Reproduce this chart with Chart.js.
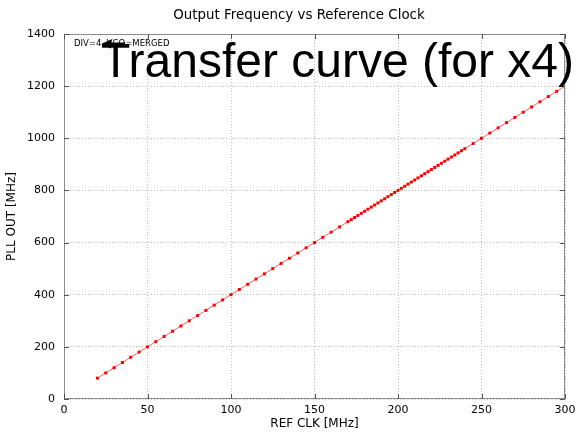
<!DOCTYPE html>
<html>
<head>
<meta charset="utf-8">
<script src="https://cdn.jsdelivr.net/npm/chart.js@4/dist/chart.umd.min.js"></script>
<style>
html,body{margin:0;padding:0;background:#fff;}
#c{display:block;}
</style>
</head>
<body>
<canvas id="c" width="576" height="432"></canvas>
<script>
const chartTitle = "Output Frequency vs Reference Clock";
const xTitle = "REF CLK [MHz]";
const yTitle = "PLL OUT [MHz]";
const legendText = "DIV=4, VCO=MERGED";
const bigLabel = "Transfer curve (for x4)";
const xTicks = [0,50,100,150,200,250,300];
const yTicks = [0,200,400,600,800,1000,1200,1400];
const refClk = [20,25,30,35,40,45,50,55,60,65,70,75,80,85,90,95,100,105,110,115,120,125,130,135,140,145,150,155,160,165,
  170,172,174,176,178,180,182,184,186,188,190,192,194,196,198,200,202,204,206,208,210,212,214,216,218,220,222,224,226,228,230,232,234,236,238,240,
  245,250,255,260,265,270,275,280,285,290,295,300];
const pllOut = [80,100,120,140,160,180,200,220,240,260,280,300,320,340,360,380,400,420,440,460,480,500,520,540,560,580,600,620,640,660,
  680,688,696,704,712,720,728,736,744,752,760,768,776,784,792,800,808,816,824,832,840,848,856,864,872,880,888,896,904,912,920,928,936,944,952,960,
  980,1000,1020,1040,1060,1080,1100,1120,1140,1160,1180,1200];

const points = refClk.map((x,i)=>({x:x,y:pllOut[i]}));
const FONT = "'DejaVu Sans', sans-serif";

const overlay = {
  id:'overlay',
  afterDraw(chart){
    const ctx = chart.ctx;
    const a = chart.chartArea;
    const xs = chart.scales.x, ys = chart.scales.y;
    ctx.save();
    // frame
    ctx.strokeStyle = '#8c8c8c';
    ctx.lineWidth = 1;
    ctx.strokeRect(Math.round(a.left)+0.5, Math.round(a.top)+0.5, Math.round(a.right-a.left)-1, Math.round(a.bottom-a.top)-1);
    // inward ticks
    ctx.strokeStyle = '#555';
    xTicks.forEach(v=>{
      const px = Math.round(xs.getPixelForValue(v))+0.5;
      ctx.beginPath(); ctx.moveTo(px,a.bottom); ctx.lineTo(px,a.bottom-5); ctx.stroke();
      ctx.beginPath(); ctx.moveTo(px,a.top); ctx.lineTo(px,a.top+5); ctx.stroke();
    });
    yTicks.forEach(v=>{
      const py = Math.round(ys.getPixelForValue(v))+0.5;
      ctx.beginPath(); ctx.moveTo(a.left,py); ctx.lineTo(a.left+5,py); ctx.stroke();
      ctx.beginPath(); ctx.moveTo(a.right,py); ctx.lineTo(a.right-5,py); ctx.stroke();
    });
    // title
    ctx.fillStyle = '#000';
    ctx.font = "13.4px " + FONT;
    ctx.textAlign = 'center';
    ctx.textBaseline = 'middle';
    ctx.fillText(chartTitle, 299, 16);
    // legend-ish label
    ctx.font = "8.5px " + FONT;
    ctx.textAlign = 'left';
    ctx.fillText(legendText, a.left+10, a.top+10);
    // arrow
    const ay = a.top+10;
    ctx.strokeStyle = '#000';
    ctx.lineWidth = 3;
    ctx.beginPath(); ctx.moveTo(a.left+61, ay); ctx.lineTo(a.left+42, ay); ctx.stroke();
    ctx.beginPath();
    ctx.moveTo(a.left+37, ay); ctx.lineTo(a.left+47, ay-4.5); ctx.lineTo(a.left+47, ay+4.5); ctx.closePath();
    ctx.fill();
    // big label
    ctx.font = "48px 'Liberation Sans', Arial, sans-serif";
    ctx.textBaseline = 'alphabetic';
    ctx.fillText(bigLabel, 101, 77);
    ctx.restore();
  }
};

new Chart(document.getElementById('c'), {
  type:'scatter',
  data:{datasets:[{
    data: points,
    showLine:true,
    borderColor:'rgba(255,70,70,0.85)',
    borderWidth:1,
    backgroundColor:'#ff0000',
    pointBackgroundColor:'#ff0000',
    pointBorderColor:'#ff0000',
    pointStyle:'rect',
    pointRadius:2.1,
    pointBorderWidth:0
  }]},
  options:{
    responsive:false,
    animation:false,
    devicePixelRatio:1,
    layout:{padding:{left:0,right:11,top:34,bottom:0}},
    plugins:{
      legend:{display:false},
      tooltip:{enabled:false},
      title:{display:false}
    },
    scales:{
      x:{
        type:'linear',min:0,max:300,
        afterBuildTicks(s){ s.ticks = xTicks.map(v=>({value:v})); },
        afterFit(s){ s.height = 33; s.paddingRight = 0; s.paddingLeft = 0; },
        grid:{color:'#bdbdbd',drawTicks:false},
        border:{display:false,dash:[1,2]},
        ticks:{padding:5,color:'#000',font:{family:FONT,size:11},maxRotation:0,callback:v=>String(v)},
        title:{display:true,text:xTitle,color:'#000',font:{family:FONT,size:12},padding:{top:0,bottom:1}}
      },
      y:{
        type:'linear',min:0,max:1400,
        afterBuildTicks(s){ s.ticks = yTicks.map(v=>({value:v})); },
        afterFit(s){ s.width = 64; s.paddingTop = 0; s.paddingBottom = 0; },
        grid:{color:'#bdbdbd',drawTicks:false},
        border:{display:false,dash:[1,2]},
        ticks:{padding:9,color:'#000',font:{family:FONT,size:11},callback:v=>String(v)},
        title:{display:true,text:yTitle,color:'#000',font:{family:FONT,size:12},padding:{top:5,bottom:0}}
      }
    }
  },
  plugins:[overlay]
});
</script>
</body>
</html>
